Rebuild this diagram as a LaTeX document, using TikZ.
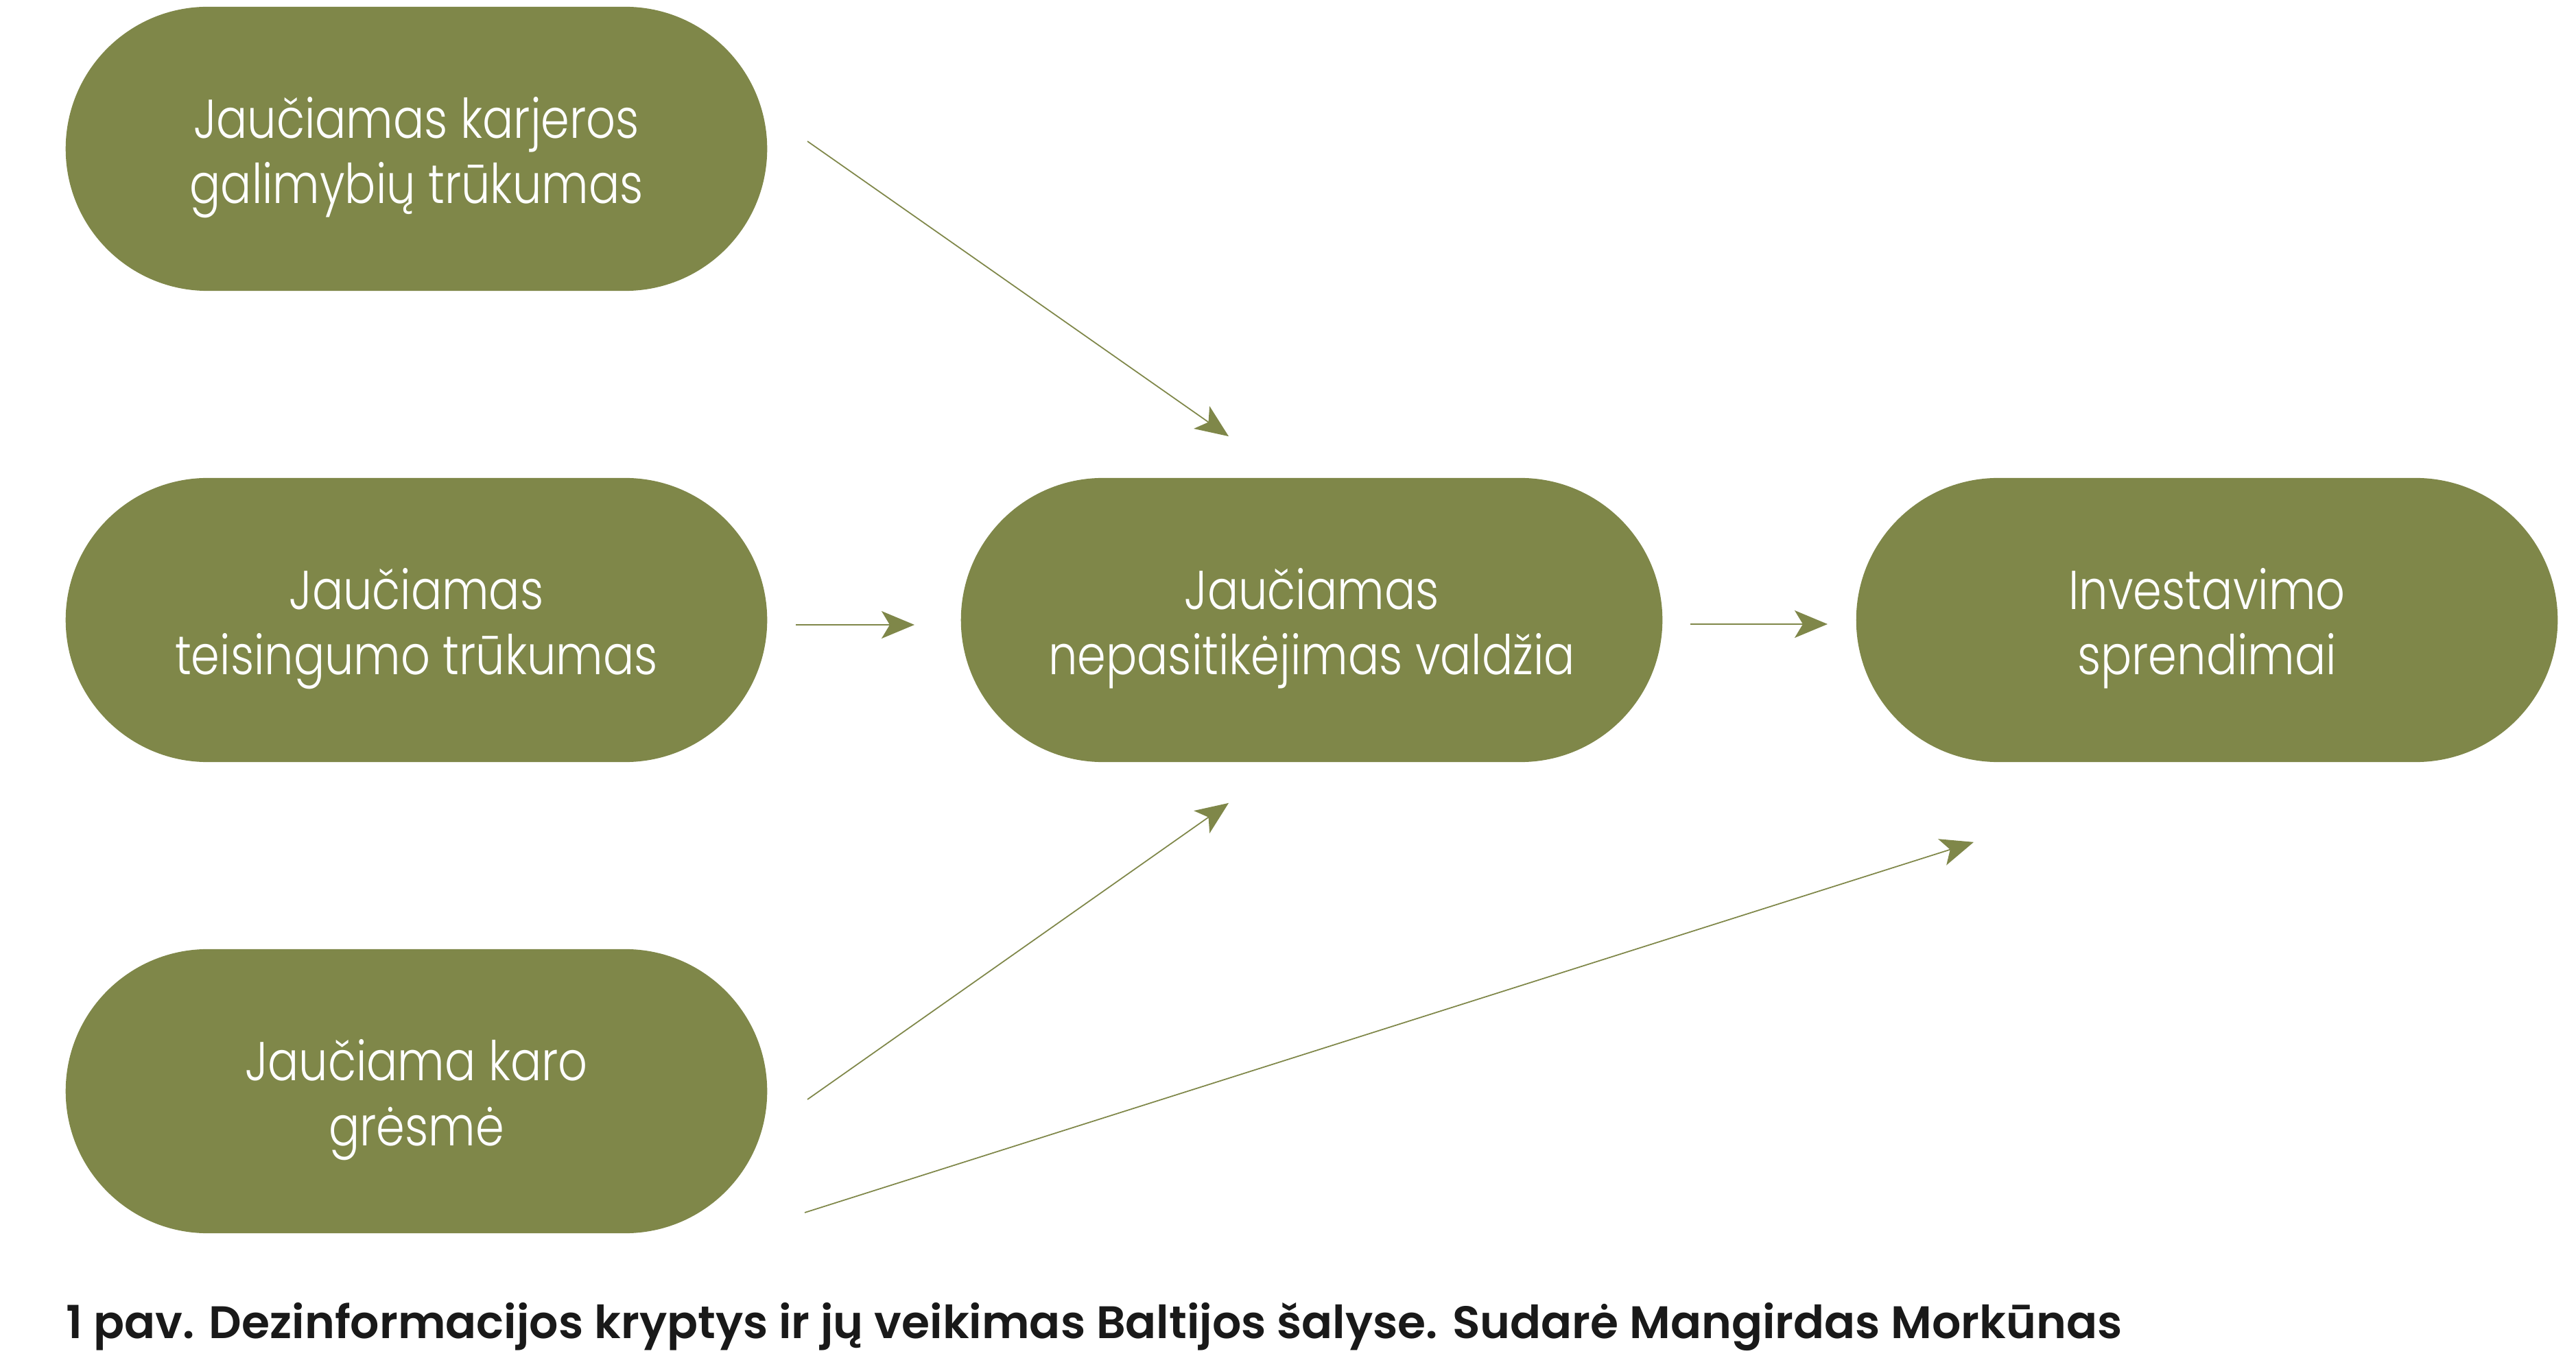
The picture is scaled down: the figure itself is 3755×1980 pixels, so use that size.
\documentclass[tikz,border=0pt]{standalone}
\usepackage{fontspec}
\newfontfamily\nodefont{Poppins}[UprightFont=* Light, FakeStretch=0.84]
\newfontfamily\capfont{Poppins}[UprightFont=* SemiBold]
\usetikzlibrary{shapes.misc,arrows.meta,calc}
\definecolor{olive}{RGB}{127,135,73}
\tikzset{
  pill/.style={rounded rectangle, fill=olive, draw=none, minimum width=10.22cm,
    minimum height=4.14cm, inner sep=0pt, text=white, align=center,
    text height=1.6cm, text depth=0.02cm,
    font=\nodefont\fontsize{22.7}{27}\selectfont},
  link/.style={draw=olive, line width=0.5pt,
    -{Stealth[length=0.48cm, width=0.4cm, inset=0.12cm, fill=olive]}}
}
\begin{document}
\begin{tikzpicture}[x=0.01cm, y=-0.01cm]
\useasboundingbox (0,0) rectangle (3755,1980);
\node[pill] (n1) at (607,217) {Jaučiamas karjeros\\galimybių trūkumas};
\node[pill] (n2) at (607,904) {Jaučiamas\\teisingumo trūkumas};
\node[pill] (n3) at (607,1591) {Jaučiama karo\\grėsmė};
\node[pill] (nc) at (1912,904) {Jaučiamas\\nepasitikėjimas valdžia};
\node[pill] (nr) at (3217,904) {Investavimo\\sprendimai};

\coordinate (a1s) at ($(n1.east)+(58,-11)$);
\coordinate (a1e) at ($(nc.north)+(-121,-60)$);
\coordinate (a2s) at ($(n2.east)+(41,7)$);
\coordinate (a2e) at ($(nc.west)+(-67,7)$);
\coordinate (a3s) at ($(n3.east)+(58,12)$);
\coordinate (a3e) at ($(nc.south)+(-121,59)$);
\coordinate (a4s) at ($(n3.east)+(54,177)$);
\coordinate (a4e) at ($(nr.south)+(-340,116)$);
\coordinate (a5s) at ($(nc.east)+(40,6)$);
\coordinate (a5e) at ($(nr.west)+(-41,6)$);

\draw[link] (a1s) -- (a1e);
\draw[link] (a2s) -- (a2e);
\draw[link] (a3s) -- (a3e);
\draw[link] (a4s) -- (a4e);
\draw[link] (a5s) -- (a5e);

\node[anchor=base west, inner sep=0pt, text=black!90, font=\capfont\fontsize{18.9}{22}\selectfont] (cap) at (96,1951)
  {1 pav. Dezinformacijos kryptys ir jų veikimas Baltijos šalyse. Sudarė Mangirdas Morkūnas};
\end{tikzpicture}
\end{document}
